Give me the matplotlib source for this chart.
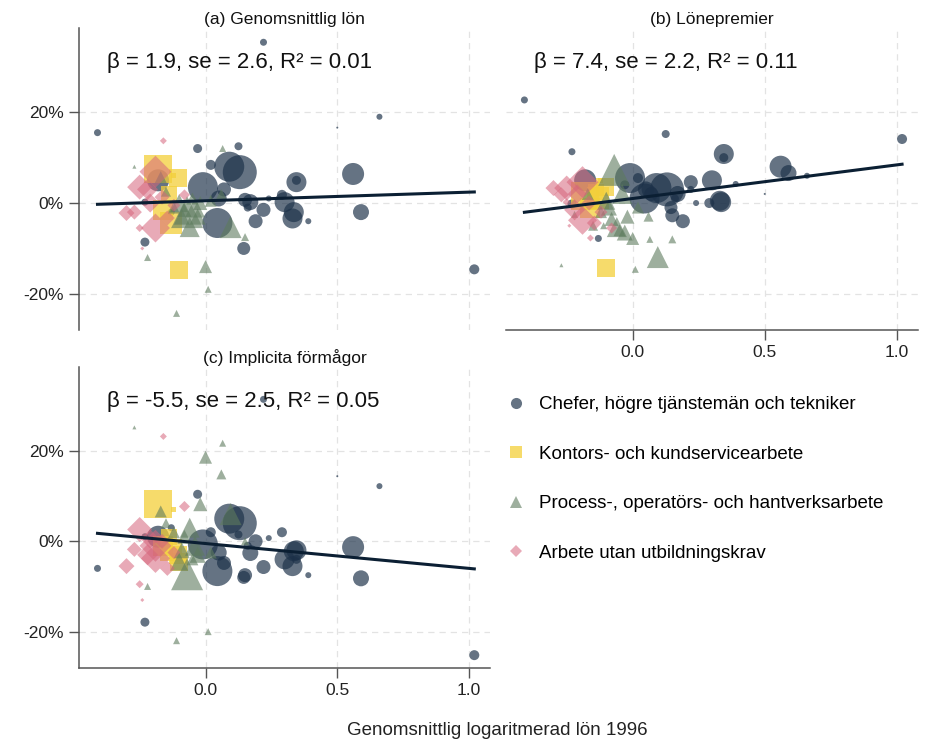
import numpy as np
import matplotlib.pyplot as plt
from matplotlib.lines import Line2D

plt.rcParams['font.family'] = ['Liberation Sans', 'DejaVu Sans']

# yrkesgrupper
grupper = ['Chefer, högre tjänstemän och tekniker',
           'Kontors- och kundservicearbete',
           'Process-, operatörs- och hantverksarbete',
           'Arbete utan utbildningskrav']

# x = genomsnittlig log-lön 1996, vikt = punktstorlek (sysselsättning),
# a/b/c = förändring i procent i respektive panel
chef_x = [-0.41, 0.22, 0.125, 0.66, 0.50, 1.02, -0.23, -0.23, -0.03, 0.09, 0.13, 0.02,
          -0.01, 0.07, 0.045, 0.15, 0.17, 0.16, 0.22, 0.19, 0.145, 0.24, 0.29, 0.30,
          0.335, 0.33, 0.345, 0.39, 0.56, 0.59, -0.18, -0.13, 0.345, 0.05]
chef_vikt = [7, 7, 8, 6, 2, 10, 9, 7, 9, 30, 34, 10, 30, 14, 30, 14, 16, 8, 14, 14, 13, 6,
             10, 20, 20, 20, 20, 6, 22, 16, 22, 7, 9, 16]
chef_a = [15.5, 35.4, 12.5, 19.0, 16.6, -14.6, -8.6, 0.2, 12.0, 8.0, 6.8, 8.4, 3.5, 3.0,
          -4.4, 0.7, 0.2, -1.0, -1.5, -4.0, -10.0, 1.0, 1.8, 0.2, -2.0, -3.4, 4.6, -4.0,
          6.4, -2.0, 5.0, -2.0, 5.0, 1.0]
chef_b = [22.7, 3.0, 15.2, 6.0, 2.0, 14.1, -0.2, 11.3, 4.0, 3.3, 3.0, 5.5, 5.5, 2.0, 1.0,
          -2.7, 2.0, 1.0, 4.6, -4.0, -1.0, 0.0, 0.0, 5.0, 0.2, 0.5, 10.8, 4.2, 8.0, 6.6,
          5.0, -7.8, 10.0, 3.0]
chef_c = [-6.0, 31.4, 1.5, 12.2, 14.4, -25.2, -17.9, 1.0, 10.4, 5.0, 4.0, 2.0, -0.7, -4.8,
          -6.6, -7.5, -2.6, -1.0, -5.7, 0.0, -8.0, 0.7, 2.0, -4.0, -2.2, -5.5, -2.0, -7.5,
          -1.3, -8.2, 1.0, 3.0, -4.0, -2.5]

kontor_x = [-0.18, -0.105, -0.10, -0.13, -0.16, -0.12, -0.14]
kontor_vikt = [28, 18, 18, 22, 20, 5, 16]
kontor_a = [7.5, 5.5, -14.8, -4.5, -1.5, 6.0, 2.0]
kontor_b = [1.5, 3.5, -14.4, 1.0, -1.0, 5.0, 2.5]
kontor_c = [8.2, -3.0, -4.5, -2.0, -1.0, 7.0, 1.0]

process_x = [0.065, -0.27, -0.22, 0.0, 0.01, -0.11, 0.15, 0.095, -0.07, -0.17, -0.06,
             -0.04, -0.09, -0.02, 0.06, -0.05, -0.08, -0.03, -0.12, 0.02, -0.10, -0.15]
process_vikt = [7, 4, 7, 13, 7, 7, 8, 22, 32, 12, 20, 20, 16, 14, 10, 12, 14, 16, 12,
                12, 18, 10]
process_a = [12.0, 8.0, -12.0, -14.0, -19.0, -24.3, -7.5, -5.3, -2.0, 5.7, -5.3, -1.0,
             -3.0, 0.0, 2.0, 1.0, -1.5, -3.0, -1.0, 0.5, 0.0, 2.5]
process_b = [-8.0, -13.7, -2.5, -7.8, -14.6, -5.0, -8.0, -11.9, 7.3, 2.0, -5.3, 2.0,
             -1.0, -3.0, -3.0, -6.0, -3.5, -6.5, -2.0, -1.0, 0.5, -5.0]
process_c = [21.7, 25.2, -10.0, 18.6, -20.0, -22.0, 0.0, 6.0, -7.3, 6.6, 3.0, -1.0,
             -2.0, 8.2, 14.8, -4.0, 1.0, -3.0, 2.0, -2.5, -4.5, 4.0]

okval_x = [-0.16, -0.19, -0.25, -0.30, -0.27, -0.19, -0.24, -0.25, -0.145, -0.08, -0.165,
           -0.21, -0.12, -0.22]
okval_vikt = [7, 32, 25, 16, 15, 29, 4, 8, 15, 11, 15, 19, 13, 21]
okval_a = [13.7, 6.9, 3.5, -2.2, -2.0, -5.5, -10.0, -5.5, -3.3, 1.8, 1.3, 0.0, -0.5, 3.0]
okval_b = [-7.7, 4.6, 3.3, 3.3, 1.8, -3.8, -5.0, 0.2, -4.4, -5.5, 0.0, 2.0, -2.0, -1.5]
okval_c = [23.2, -1.0, 2.6, -5.5, -1.8, -3.8, -13.0, -9.5, -6.0, 7.7, 0.0, 0.5, -2.5, -3.0]

# paneler och regressionsresultat
titlar = ['(a) Genomsnittlig lön', '(b) Lönepremier', '(c) Implicita förmågor']
beta = [1.9, 7.4, -5.5]
se = [2.6, 2.2, 2.5]
r2 = [0.01, 0.11, 0.05]
konstant = [0.5, 1.0, -0.5]

farger = ['#1c3149', '#f3cf3a', '#5d7b5d', '#d6657c']
alfa = [0.68, 0.75, 0.6, 0.55]
former = ['o', 's', '^', 'D']

data = [
    (chef_x, chef_vikt, [chef_a, chef_b, chef_c]),
    (kontor_x, kontor_vikt, [kontor_a, kontor_b, kontor_c]),
    (process_x, process_vikt, [process_a, process_b, process_c]),
    (okval_x, okval_vikt, [okval_a, okval_b, okval_c]),
]

fig = plt.figure(figsize=(9.3, 7.42), dpi=100)
ax_a = fig.add_axes([0.085, 0.555, 0.442, 0.407])
ax_b = fig.add_axes([0.544, 0.555, 0.443, 0.407])
ax_c = fig.add_axes([0.085, 0.100, 0.442, 0.405])
axlar = [ax_a, ax_b, ax_c]

alla_x = chef_x + kontor_x + process_x + okval_x
xs = np.array([min(alla_x), max(alla_x)])

for i, ax in enumerate(axlar):
    for g, (x, vikt, ys) in enumerate(data):
        v = np.array(vikt) * 0.72
        if former[g] == 'D':
            v = v / np.sqrt(2)
        ax.scatter(x, ys[i], s=v ** 2, marker=former[g], color=farger[g],
                   alpha=alfa[g], linewidths=0, zorder=2 + g)
    ax.plot(xs, konstant[i] + beta[i] * xs, color='#0b1f33', lw=2.2, zorder=10)
    ax.text(-0.375, 31, f'β = {beta[i]}, se = {se[i]}, R² = {r2[i]}',
            fontsize=16, ha='left', va='center', color='#111111', zorder=11)
    ax.set_title(titlar[i], fontsize=12.5, pad=3, color='#111111')

    ax.set_xlim(-0.48, 1.08)
    ax.set_ylim(-28, 38.5)
    ax.set_xticks([0.0, 0.5, 1.0])
    ax.set_yticks([-20, 0, 20])
    ax.set_yticklabels(['-20%', '0%', '20%'])
    ax.set_xticklabels(['0.0', '0.5', '1.0'])
    ax.grid(True, color='#e3e3e3', linestyle=(0, (5, 4)), lw=0.9)
    ax.set_axisbelow(True)
    for s in ['top', 'right']:
        ax.spines[s].set_visible(False)
    for s in ['left', 'bottom']:
        ax.spines[s].set_color('#555555')
        ax.spines[s].set_linewidth(1.1)
    ax.tick_params(length=7, width=1, color='#555555', labelsize=12.5,
                   labelcolor='#222222', pad=4)

# (a) ingen x-axel, (b) ingen y-axel
ax_a.spines['bottom'].set_visible(False)
ax_a.tick_params(axis='x', bottom=False, labelbottom=False)
ax_b.spines['left'].set_visible(False)
ax_b.tick_params(axis='y', left=False, labelleft=False)

fig.text(0.535, 0.004, 'Genomsnittlig logaritmerad lön 1996', fontsize=13.5,
         ha='center', va='bottom', color='#222222')

handtag = [Line2D([], [], marker=former[g], linestyle='none', color=farger[g],
                  alpha=alfa[g], markeredgewidth=0,
                  markersize=8 if former[g] != 'D' else 6)
           for g in range(4)]
fig.legend(handtag, grupper, loc='upper left', bbox_to_anchor=(0.535, 0.476),
           frameon=False, fontsize=13.5, labelspacing=1.72, handletextpad=0.6,
           handlelength=1.2, borderaxespad=0)

fig.savefig('out.png', dpi=100)
